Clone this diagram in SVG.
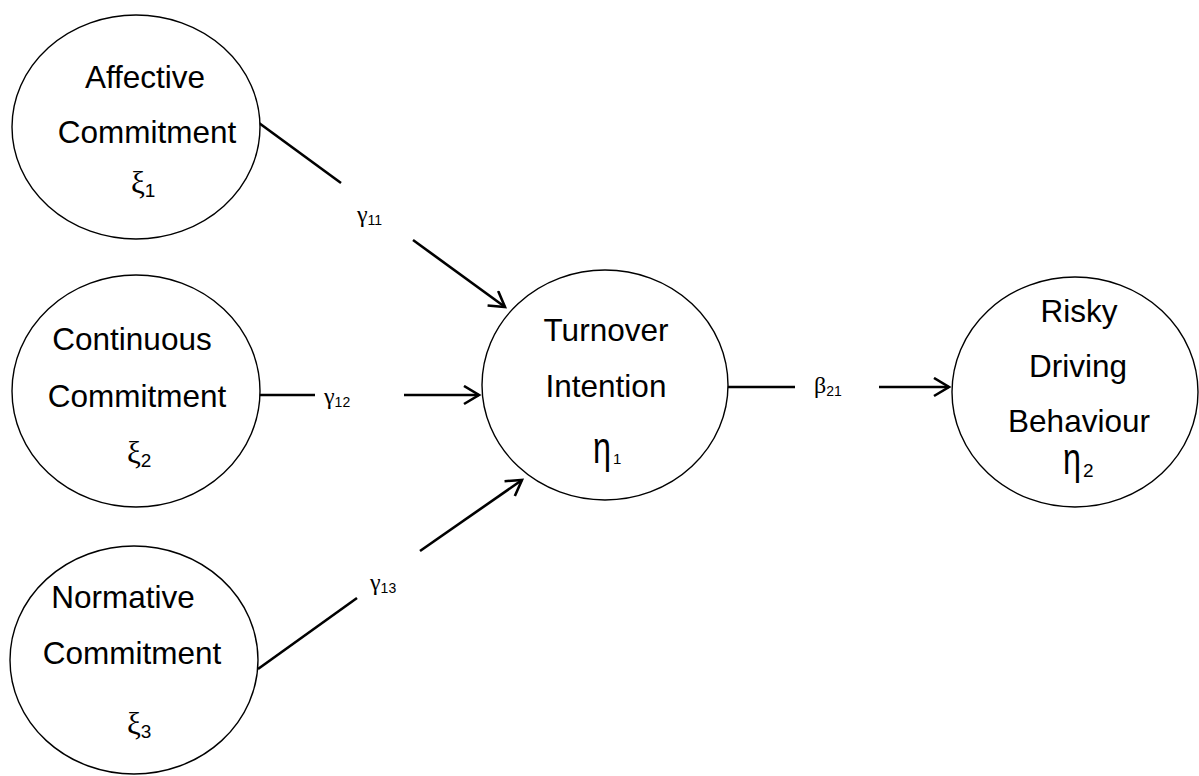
<svg xmlns="http://www.w3.org/2000/svg" width="1199" height="776" viewBox="0 0 1199 776">
<style>
.node{fill:#fff;stroke:#000;stroke-width:1.4}
.t{font-family:"Liberation Sans",Arial,sans-serif;font-size:31.5px;fill:#000;text-anchor:middle}
.g{font-family:"Liberation Serif","Times New Roman",serif;fill:#000}
.s{font-family:"Liberation Sans",Arial,sans-serif;fill:#000}
.c{stroke:#000;stroke-width:2.6;fill:none}
</style>
<defs>
<marker id="arr" markerUnits="userSpaceOnUse" markerWidth="24" markerHeight="24" refX="17" refY="10" orient="auto">
<path d="M2,1 L17,10 L2,19" fill="none" stroke="#000" stroke-width="2.6"/>
</marker>
</defs>
<rect width="1199" height="776" fill="#fff"/>
<g id="connectors">
<line class="c" x1="259" y1="123" x2="341" y2="183"/>
<line class="c" x1="413" y1="240" x2="505" y2="307" marker-end="url(#arr)"/>
<line class="c" x1="259" y1="395" x2="315" y2="395"/>
<line class="c" x1="404" y1="395" x2="479" y2="395" marker-end="url(#arr)"/>
<line class="c" x1="258" y1="669" x2="357" y2="598"/>
<line class="c" x1="420" y1="551" x2="522" y2="480" marker-end="url(#arr)"/>
<line class="c" x1="728" y1="387" x2="795" y2="387"/>
<line class="c" x1="879" y1="387" x2="949" y2="387" marker-end="url(#arr)"/>
<text x="357" y="222"><tspan class="g" font-size="24">γ</tspan><tspan class="s" font-size="14" dy="3">11</tspan></text>
<text x="324" y="404"><tspan class="g" font-size="24">γ</tspan><tspan class="s" font-size="14" dy="3">12</tspan></text>
<text x="370" y="590"><tspan class="g" font-size="24">γ</tspan><tspan class="s" font-size="14" dy="3">13</tspan></text>
<text x="814" y="393"><tspan class="g" font-size="24">β</tspan><tspan class="s" font-size="14" dy="3">21</tspan></text>
</g>
<g id="affective">
<ellipse class="node" cx="136" cy="127" rx="124" ry="112"/>
<text class="t" x="145" y="88">Affective</text>
<text class="t" x="147" y="143">Commitment</text>
<text x="131" y="193"><tspan class="g" font-size="31">ξ</tspan><tspan class="s" font-size="19" dy="4">1</tspan></text>
</g>
<g id="continuous">
<ellipse class="node" cx="136" cy="391" rx="124" ry="116"/>
<text class="t" x="132" y="350">Continuous</text>
<text class="t" x="137" y="407">Commitment</text>
<text x="127" y="463"><tspan class="g" font-size="31">ξ</tspan><tspan class="s" font-size="19" dy="4">2</tspan></text>
</g>
<g id="normative">
<ellipse class="node" cx="134" cy="660" rx="124" ry="114"/>
<text class="t" x="123" y="608">Normative</text>
<text class="t" x="132" y="664">Commitment</text>
<text x="127" y="734"><tspan class="g" font-size="31">ξ</tspan><tspan class="s" font-size="19" dy="4">3</tspan></text>
</g>
<g id="turnover">
<ellipse class="node" cx="605" cy="385" rx="123" ry="115"/>
<text class="t" x="606" y="341">Turnover</text>
<text class="t" x="606" y="397">Intention</text>
<text class="s" font-size="38" transform="translate(593,463) scale(0.85,1.15)">η</text>
<text class="s" font-size="15" x="613" y="464">1</text>
</g>
<g id="risky">
<ellipse class="node" cx="1075" cy="392" rx="123" ry="115"/>
<text class="t" x="1079" y="322">Risky</text>
<text class="t" x="1078" y="377">Driving</text>
<text class="t" x="1079" y="432">Behaviour</text>
<text class="s" font-size="38" transform="translate(1063,474) scale(0.85,1.15)">η</text>
<text class="s" font-size="19" x="1083" y="477">2</text>
</g>
</svg>
